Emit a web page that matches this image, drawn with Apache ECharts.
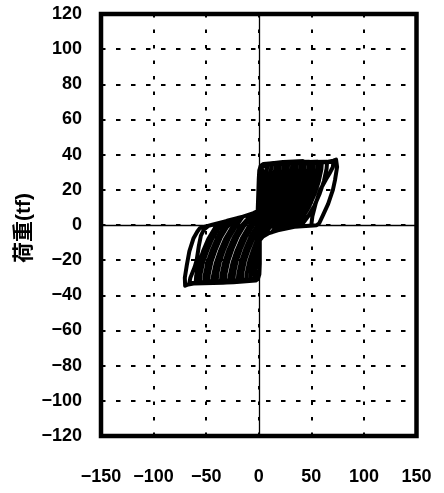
<!DOCTYPE html>
<html>
<head>
<meta charset="utf-8">
<script src="https://cdn.jsdelivr.net/npm/echarts@6/dist/echarts.min.js"></script>
<style>
html,body{margin:0;padding:0;background:#fff;}
#chart{width:444px;height:493px;}
</style>
</head>
<body>
<div id="chart"></div>
<script>
// Axis settings (tick labels)
const xTicks = [-150, -100, -50, 0, 50, 100, 150];
const yTicks = [-120, -100, -80, -60, -40, -20, 0, 20, 40, 60, 80, 100, 120];
const yName = '荷重(tf)';

// Hysteresis loops, [displacement, load], one array per cycle
const c01 = [[0,0],[0,26],[0.5,29.5],[1.8,30.5],[4,31],[3.5,27],[1,20],[1,-22],[0,-27],[-2,-28.5],[-4,-29],[-3.5,-25],[-1,-18],[0,-16]];
const c02 = [[0,26],[0.5,30.5],[1.8,32.5],[4.5,33.3],[8,33.5],[7.5,29.5],[5,22.5],[1,14],[1,-22],[0.5,-28],[-1.5,-30],[-4,-30.4],[-8,-30.5],[-7.5,-26.5],[-5,-19.5],[-1,-12.5],[0,-10.5]];
const c03 = [[0,26],[0.5,31],[1.8,33.3],[4.5,34.2],[12,34.5],[11.5,30.5],[9,23.5],[5,16.5],[1,10.5],[1,-22],[0.6,-28],[-0.8,-30.5],[-3,-31.2],[-12,-31.5],[-11.5,-27.5],[-9,-20.5],[-5,-13.5],[-1,-7.5],[0,-6]];
const c04 = [[0,26],[0.5,31],[1.8,33.3],[4.5,34.3],[10,34.6],[16,35],[15.5,31],[13,24],[9,17],[4,10],[1,6],[1,-22],[0.6,-28],[-0.8,-30.3],[-3,-30.8],[-10,-31.2],[-16,-31],[-15.5,-27],[-13,-20],[-9,-13],[-4,-6],[-1,-2],[0,-0.5]];
const e18 = [[0,26],[0.5,31],[1.8,33.4],[4.5,34.5],[11,35],[18,35.3],[17.5,31.3],[15,24.3],[11,17.3],[6,10.3],[1,4],[1,-22],[0.6,-28],[-0.8,-30.4],[-3,-31],[-11,-31.4],[-18,-31.5],[-17.5,-27.5],[-15,-20.5],[-11,-13.5],[-6,-6.5],[-1.5,-1],[0,0.5]];
const c05 = [[0,26],[0.5,31],[1.8,33.3],[4.5,34.2],[12,34.8],[20,34.5],[19.5,30.5],[17,23.5],[13,16.5],[8,9.5],[2,3.5],[1,2],[1,-22],[0.6,-28],[-0.8,-30.5],[-3,-31.2],[-12,-31.6],[-20,-32],[-19.5,-28],[-17,-21],[-13,-14],[-8,-7],[-2,-1],[0,1]];
const c06 = [[0,26],[0.5,31],[1.8,33.5],[4.5,34.5],[14,35.2],[24,35.5],[23.5,31.5],[21,24.5],[17,17.5],[12,10.5],[6,4.5],[1,-0.5],[1,-22],[0.6,-28],[-0.8,-30.4],[-3,-31],[-14,-31.4],[-24,-31.5],[-23.5,-27.5],[-21,-20.5],[-17,-13.5],[-12,-6.5],[-6,-0.5],[-1,4],[0,5]];
const e26 = [[0,26],[0.5,31],[1.8,33.3],[4.5,34.2],[15,34.9],[26,34.8],[25.5,30.8],[23,23.8],[19,16.8],[14,9.8],[8,3.8],[3,-0.8],[1,-2.5],[1,-22],[0.6,-28],[-0.8,-30.5],[-3,-31.3],[-15,-31.8],[-26,-32],[-25.5,-28],[-23,-21],[-19,-14],[-14,-7],[-8,-1],[-3,3],[0,5]];
const c07 = [[0,26],[0.5,31],[1.8,33.3],[4.5,34.3],[16,35.3],[28,35],[27.5,31],[25,24],[21,17],[16,10],[10,4],[5,-0.5],[1,-3.5],[1,-22],[0.6,-28],[-0.8,-30.6],[-3,-31.4],[-16,-32.2],[-28,-32.5],[-27.5,-28.5],[-25,-21.5],[-21,-14.5],[-16,-7.5],[-10,-1.5],[-5,2.5],[-1,5.5],[0,6]];
const c08 = [[0,26],[0.5,31],[1.8,33.5],[4.5,34.6],[18,35.4],[32,36],[31.5,32],[29,25],[25,18],[20,11],[14,5],[8,0],[3,-4],[1,-6],[1,-22],[0.6,-28],[-0.8,-30.3],[-3,-31],[-18,-31.6],[-32,-31.5],[-31.5,-27.5],[-29,-20.5],[-25,-13.5],[-20,-6.5],[-14,-0.5],[-8,3.5],[-1,7],[0,7.5]];
const e34 = [[0,26],[0.5,31],[1.8,33.5],[4.5,34.5],[19,35.5],[34,35.8],[33.5,31.8],[31,24.8],[27,17.8],[22,10.8],[16,4.8],[10,0.3],[4,-4],[1,-6.5],[1,-22],[0.6,-28],[-0.8,-30.5],[-3,-31.3],[-19,-32],[-34,-32],[-33.5,-28],[-31,-21],[-27,-14],[-22,-7],[-16,-1],[-10,3],[-3,7],[0,8]];
const c09 = [[0,26],[0.5,31],[1.8,33.3],[4.5,34.2],[20,35.5],[36,35],[35.5,31],[33,24],[29,17],[24,10],[18,4],[12,-0.5],[6,-4.5],[1,-7.5],[1,-22],[0.6,-28],[-0.8,-30.6],[-3,-31.5],[-20,-32.3],[-36,-32.5],[-35.5,-28.5],[-33,-21.5],[-29,-14.5],[-24,-7.5],[-18,-1.5],[-12,2.5],[-5,6.2],[-1,8],[0,8.5]];
const c10 = [[0,26],[0.5,31],[1.8,33.5],[4.5,34.5],[22,35.6],[40,36],[39.5,32],[37,25],[33,18],[28,11],[22,5],[17,0.5],[13,-4],[9,-4.8],[4,-6.5],[1,-8.6],[1,-22],[0.6,-28],[-0.8,-30.4],[-3,-31.2],[-22,-32],[-40,-32],[-39.5,-28],[-37,-21],[-33,-14],[-28,-7],[-22,-1],[-17,3.2],[-15,4.8],[-5,6.8],[-1,8]];
const e42 = [[0,8],[0,26],[0.5,31],[1.8,33.5],[4.5,34.6],[23,35.8],[42,36.2],[41.5,32.2],[39,25.2],[35,18.2],[30,11.2],[24,5.2],[19,0.7],[15,-3.6],[9,-4.8],[4,-6.5],[1,-8.6],[1,-22],[0.6,-28],[-0.8,-30.5],[-3,-31.4],[-23,-32.3],[-42,-32.5],[-41.5,-28.5],[-39,-21.5],[-35,-14.5],[-30,-7.5],[-24,-1.5],[-18,2.8],[-15,4.8],[-5,6.8],[-1,8]];
const c11 = [[0,8],[0,26],[0.5,31],[1.8,33.3],[4.5,34.3],[24,35],[44,35.5],[43.5,31.5],[41,24.5],[37,17.5],[32,10.5],[26,4.5],[21,0],[18,-3],[9,-4.8],[4,-6.5],[1,-8.6],[1,-22],[0.6,-28],[-0.8,-30.6],[-3,-31.5],[-24,-32.5],[-44,-33],[-43.5,-29],[-41,-22],[-37,-15],[-32,-8],[-26,-2],[-20,2.5],[-15,4.8],[-5,6.8],[-1,8]];
const c12 = [[0,8],[0,26],[0.5,31],[1.8,33.6],[4.5,34.7],[26,35.8],[48,36],[47.5,32],[45,25],[41,18],[36,11],[30,5],[25,0.5],[22,-2.5],[18,-3],[9,-4.8],[4,-6.5],[1,-8.6],[1,-22],[0.6,-28],[-0.8,-30.4],[-3,-31.1],[-26,-31.8],[-48,-32],[-47.5,-28],[-45,-21],[-41,-14],[-36,-7],[-30,-1],[-25,2],[-20,4],[-15,4.8],[-5,6.8],[-1,8]];
const e50 = [[0,8],[0,26],[0.5,31],[1.8,33.4],[4.5,34.5],[27,35.5],[50,35.8],[49.5,31.8],[47,24.8],[43,17.8],[38,10.8],[32,4.8],[27,0.5],[24,-2.2],[18,-3],[9,-4.8],[4,-6.5],[1,-8.6],[1,-22],[0.6,-28],[-0.8,-30.6],[-3,-31.5],[-27,-32.3],[-50,-32.6],[-49.5,-28.6],[-47,-21.6],[-43,-14.6],[-38,-7.6],[-32,-1.6],[-27,2],[-24,3.3],[-15,4.8],[-5,6.8],[-1,8]];
const c13 = [[0,8],[0,26],[0.5,31],[1.8,33.3],[4.5,34.2],[28,35.2],[52,35],[51.5,31],[49,24],[45,17],[40,10],[34,4],[29,0.5],[26,-2],[18,-3],[9,-4.8],[4,-6.5],[1,-8.6],[1,-22],[0.6,-28],[-0.8,-30.7],[-3,-31.6],[-28,-32.6],[-52,-33],[-51.5,-29],[-49,-22],[-45,-15],[-40,-8],[-34,-2],[-29,1.5],[-26,3],[-15,4.8],[-5,6.8],[-1,8]];
const c14 = [[0,8],[0,26],[0.5,31],[1.8,33.5],[4.5,34.5],[30,35.6],[56,36],[55.5,32],[53,25],[49,18],[44,11],[38,5],[33,1],[30,-1.5],[18,-3],[9,-4.8],[4,-6.5],[1,-8.6],[1,-22],[0.6,-28],[-0.8,-30.5],[-3,-31.3],[-30,-32.2],[-56,-32.5],[-55.5,-28.5],[-53,-21.5],[-49,-14.5],[-44,-7.5],[-38,-1.5],[-33,1.5],[-30,2.4],[-15,4.8],[-5,6.8],[-1,8]];
const e58 = [[0,8],[0,26],[0.5,31],[1.8,33.4],[4.5,34.4],[31,35.3],[58,35.6],[57.5,31.6],[55,24.6],[51,17.6],[46,10.6],[40,4.6],[35,0.6],[32,-1.2],[18,-3],[9,-4.8],[4,-6.5],[1,-8.6],[1,-22],[0.6,-28],[-0.8,-30.6],[-3,-31.5],[-31,-32.5],[-58,-32.8],[-57.5,-28.8],[-55,-21.8],[-51,-14.8],[-46,-7.8],[-40,-1.8],[-35,1.4],[-32,2],[-15,4.8],[-5,6.8],[-1,8]];
const c15 = [[0,8],[0,26],[0.5,31],[1.8,33.4],[4.5,34.4],[32,35.4],[60,35.5],[59.5,31.5],[57,24.5],[53,17.5],[48,10.5],[42,4.5],[37,0.5],[34,-1],[18,-3],[9,-4.8],[4,-6.5],[1,-8.6],[1,-22],[0.6,-28],[-0.8,-30.6],[-3,-31.5],[-32,-32.6],[-60,-33],[-59.5,-29],[-57,-22],[-53,-15],[-48,-8],[-42,-2],[-37,1],[-32,2],[-15,4.8],[-5,6.8],[-1,8]];
const c16 = [[0,8],[0,26],[0.5,31],[1.8,33.5],[4.5,34.6],[34,35.7],[65,36],[64.5,32],[62,25],[58,18],[53,11],[47,5],[42,1],[38,-0.8],[34,-1],[18,-3],[9,-4.8],[4,-6.5],[1,-8.6],[1,-22],[0.6,-28],[-0.8,-30.5],[-3,-31.4],[-34,-32.5],[-66,-33],[-65,-30],[-61,-24],[-59,-20],[-57,-12],[-55,-6],[-52,-2.5],[-48,-0.5],[-45,0],[-32,2],[-15,4.8],[-5,6.8],[-1,8]];
const c17 = [[0,8],[0,26],[0.5,31],[1.8,33.4],[4.5,34.4],[36,35.5],[66,35.8],[71,36],[70.5,33],[67,29],[64,26],[58.5,20],[54,12],[51,5],[50,0],[48,-0.45],[34,-1],[18,-3],[9,-4.8],[4,-6.5],[1,-8.6],[1,-22],[0.6,-28],[-0.8,-30.6],[-3,-31.6],[-34,-32.8],[-62,-33.3],[-67,-33.8],[-70,-34.5],[-70.3,-30],[-68.4,-22.8],[-66,-15],[-62,-7.5],[-58.5,-3.8],[-56,-1.8],[-45,0],[-32,2],[-15,4.8],[-5,6.8],[-1,8]];
const c18 = [[0,8],[0,26],[0.5,31],[1.8,33.5],[4.5,34.5],[36,35.6],[66,36],[71,36.6],[73.5,37.2],[75,37.5],[74.5,33],[72.5,25.5],[70.5,20],[66,12],[61,5.5],[57.5,1],[55,-0.15],[52,-0.3],[34,-1],[18,-3],[9,-4.8],[4,-6.5],[1,-8.6],[1,-12]];

const loops = [].concat(c01,c02,c03,c04,e18,c05,c06,e26,c07,c08,e34,c09,c10,e42,c11,c12,e50,c13,c14,e58,c15,c16,c17,c18);

const fontDigits = "'Liberation Sans', Arial, sans-serif";
const minus = v => String(v).replace('-', '\u2212');

const chart = echarts.init(document.getElementById('chart'), null, {renderer: 'canvas'});
chart.setOption({
  animation: false,
  backgroundColor: '#fff',
  grid: {
    left: 101, right: 27.5, top: 14, bottom: 57,
    show: true, borderColor: '#000', borderWidth: 4.5, backgroundColor: 'transparent',
    containLabel: false, outerBoundsMode: 'none'
  },
  graphic: [{
    type: 'text',
    x: 24, y: 228,
    rotation: Math.PI / 2,
    style: {
      text: yName, x: 0, y: 0, align: 'center', verticalAlign: 'middle',
      fill: '#000',
      font: "bold 21px 'Liberation Sans', 'Noto Sans CJK JP', sans-serif"
    }
  }],
  xAxis: {
    type: 'value',
    min: xTicks[0], max: xTicks[xTicks.length - 1], interval: 50,
    axisLine: {show: false},
    axisTick: {show: false},
    axisLabel: {
      margin: 32, fontSize: 18, fontWeight: 'bold', color: '#000', fontFamily: fontDigits,
      formatter: minus
    },
    splitLine: {show: true, lineStyle: {color: '#000', width: 2, type: [3.5, 12]}}
  },
  yAxis: {
    type: 'value',
    min: yTicks[0], max: yTicks[yTicks.length - 1], interval: 20,
    axisLine: {show: false},
    axisTick: {show: false},
    axisLabel: {
      margin: 19, fontSize: 18, fontWeight: 'bold', color: '#000', fontFamily: fontDigits,
      formatter: minus
    },
    splitLine: {show: true, lineStyle: {color: '#000', width: 2, type: [4.5, 10.5]}}
  },
  series: [{
    type: 'line',
    data: loops,
    showSymbol: false,
    symbol: 'none',
    smooth: false,
    clip: true,
    lineStyle: {color: '#000', width: 4, join: 'round', cap: 'round'},
    markLine: {
      silent: true, symbol: 'none', label: {show: false},
      lineStyle: {color: '#000', width: 1.3, type: 'solid'},
      data: [{xAxis: 0}, {yAxis: 0}]
    },
    z: 3
  }]
});
</script>
</body>
</html>
